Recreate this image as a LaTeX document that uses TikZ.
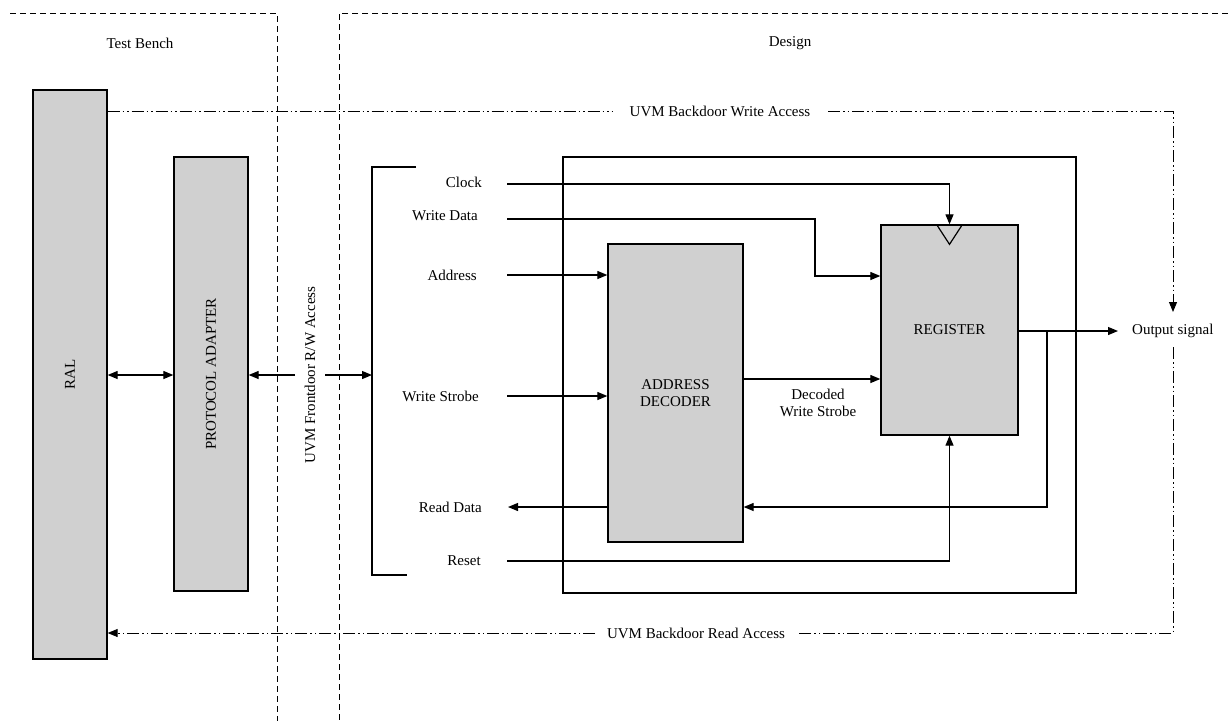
\documentclass[tikz,border=0pt]{standalone}
\usepackage{fontspec}
\setmainfont{Liberation Serif}
\usetikzlibrary{arrows.meta}
\definecolor{boxgray}{HTML}{D0D0D0}
\begin{document}
\begin{tikzpicture}[x=1pt,y=-1pt,
  font=\fontsize{15}{17.5}\selectfont,
  every node/.style={inner sep=0pt},
  blk/.style={draw, line width=1.3pt, fill=boxgray, minimum width=#1},
  lbl/.style={anchor=east},
  wire/.style={line width=1.2pt},
  tip/.style={-{Triangle[length=10pt,width=8pt]}},
  arr/.style={wire, tip},
  darr/.style={wire, {Triangle[length=10pt,width=8pt]}-{Triangle[length=10pt,width=8pt]}},
  region/.style={line width=1pt, dash pattern=on 6pt off 4pt},
  dd/.style={line width=0.9pt, dash pattern=on 12pt off 3pt on 1.5pt off 3pt on 1.5pt off 3pt}]
\useasboundingbox (0,0) rectangle (1228,721);

% regions
\draw[region] (10,13) -- (277,13) -- (277,721);
\draw[region] (1228,13) -- (339,13) -- (339,721);
\node (tb) at (140,43) {Test Bench};
\node (dsg) at (790,43) {Design};

% blocks
\node[blk=74pt, minimum height=569pt] (ral) at (70,374.5) {};
\node[rotate=90] (ralt) at (ral.center) {RAL};
\node[blk=74pt, minimum height=434pt] (pa) at (211,374) {};
\node[rotate=90] (pat) at (pa.center) {PROTOCOL ADAPTER};
\node[draw, line width=1.3pt, minimum width=513pt, minimum height=436pt] (big) at (819.5,375) {};
\node[blk=135pt, minimum height=298pt, align=center] (dec) at (675.5,393) {ADDRESS\\DECODER};
\node[blk=137pt, minimum height=210pt] (reg) at (949.5,330) {REGISTER};
\draw[wire] ([xshift=-13pt]reg.north) -- ([yshift=-20pt]reg.north) -- ([xshift=13pt]reg.north);

% frontdoor
\node[rotate=90] (fd) at (310,375) {UVM Frontdoor R/W Access};
\draw[darr] (ral.east |- 0,375) -- (pa.west |- 0,375);
\coordinate (fdL) at (295,375);
\coordinate (fdR) at (325,375);
\coordinate (brk) at (372,375);
\draw[arr] (fdL) -- (pa.east |- fdL);
\draw[arr] (fdR) -- (brk);

% bracket
\draw[wire] (416,167) -- (372,167) -- (372,575) -- (407,575);

% signal labels
\node[lbl] (clk) at (482,182) {Clock};
\node[lbl] (wd) at (478,216) {Write Data};
\node[lbl] (adr) at (477,275) {Address};
\node[lbl] (ws) at (479,396) {Write Strobe};
\node[lbl] (rd) at (482,507) {Read Data};
\node[lbl] (rst) at (481,561) {Reset};

\coordinate (clkS) at (507,184);
\coordinate (wdS) at (507,219);
\coordinate (adS) at (507,275);
\coordinate (wsS) at (507,396);
\coordinate (rdE) at (508,507);
\coordinate (rsS) at (507,561);

\draw[arr] (clkS) -- (clkS -| reg.north) -- (reg.north);
\draw[arr] (wdS) -- (815,219) -- (815,276) -- (reg.west |- 0,276);
\draw[arr] (adS) -- (dec.west |- adS);
\draw[arr] (wsS) -- (dec.west |- wsS);
\draw[arr] (dec.east |- 0,379) -- (reg.west |- 0,379);
\node[align=center] (dws) at (818,403) {Decoded\\Write Strobe};
\draw[arr] (dec.west |- rdE) -- (rdE);
\draw[arr] (rsS) -- (rsS -| reg.south) -- (reg.south);

% output
\node[anchor=west] (out) at (1132,331) {Output signal};
\draw[arr, shorten >=14pt] (reg.east |- out) -- (out.west);
\coordinate (fb) at (1047,331);
\draw[arr] (fb) -- (1047,507) -- (dec.east |- 0,507);

% backdoor
\node (wa) at (720,111) {UVM Backdoor Write Access};
\draw[dd] (ral.east |- 0,111) -- (613,111);
\coordinate (wcorner) at (1173,111);
\draw[dd, tip] (828,111) -- (wcorner) -- (1173,312);
\node (ra) at (696,633) {UVM Backdoor Read Access};
\coordinate (rcorner) at (1173,633);
\draw[dd] (1173,347) -- (rcorner) -- (798,633);
\draw[dd, tip] (595,633) -- (ral.east |- 0,633);
\end{tikzpicture}
\end{document}
